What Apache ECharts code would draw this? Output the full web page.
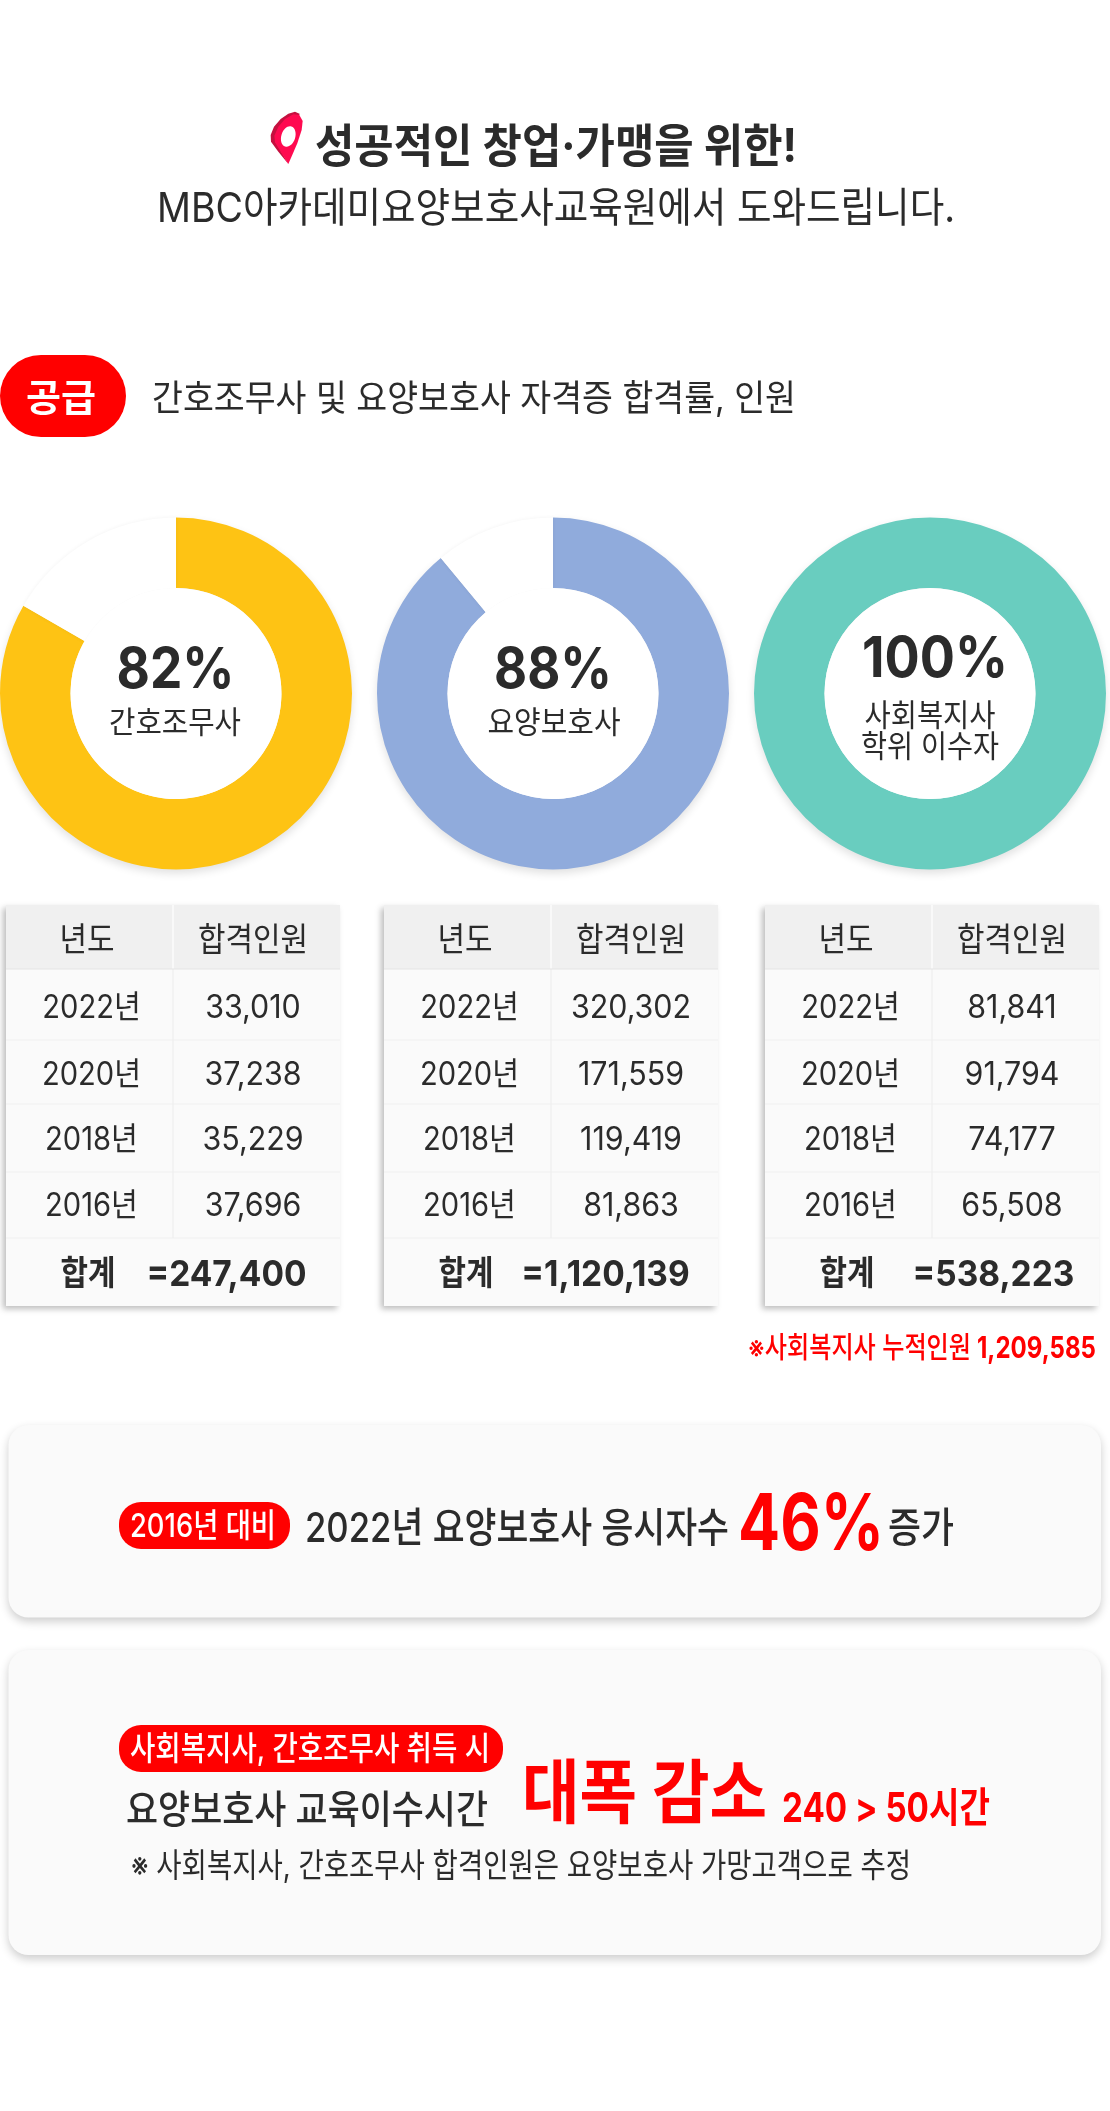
<!DOCTYPE html>
<html lang="ko"><head><meta charset="utf-8">
<style>html,body{margin:0;padding:0;background:#fff}#c{width:1110px;height:2111px}</style>
<script src="https://cdn.jsdelivr.net/npm/echarts@6/dist/echarts.min.js"></script>
</head><body><div id="c"></div>
<script>
// ---------- data ----------
const donutNames = ['간호조무사', '요양보호사', '사회복지사 학위 이수자'];
const donutLabels = ['82%', '88%', '100%'];
const drawnShares = [83.3, 89, 100];          // arc share as measured in the picture
const donutColors = ['#fec314', '#90abdc', '#69cdbf'];
const tableYears = ['2022년', '2020년', '2018년', '2016년'];
const nurseAides = ['33,010', '37,238', '35,229', '37,696'];
const careWorkers = ['320,302', '171,559', '119,419', '81,863'];
const socialWorkers = ['81,841', '91,794', '74,177', '65,508'];
const tableTotals = ['=247,400', '=1,120,139', '=538,223'];

// ---------- layout ----------
const INK = '#2b2b2b', RED = '#ff0000';
const FONT = 'Inter, "Noto Sans CJK KR", sans-serif';
const ctx = document.createElement('canvas').getContext('2d');
function textW(t, size, weight) { ctx.font = weight + ' ' + size + 'px ' + FONT; return ctx.measureText(t).width; }
const g = [];
function T(t, o) {
  const size = o.size, weight = o.weight || 400;
  const nat = textW(t, size, weight);
  const w = o.w || nat * (o.k || 1);
  const left = o.x != null ? o.x : o.cx - w / 2;
  g.push({ type: 'text', x: left, y: o.y, scaleX: w / nat, z: 20, silent: true,
    style: { text: t, fill: o.color || INK, font: weight + ' ' + size + 'px ' + FONT, textAlign: 'left', textVerticalAlign: 'middle' } });
}
function R(x, y, w, h, fill, r, shadow, z) {
  g.push({ type: 'rect', z: z || 5, silent: true, shape: { x, y, width: w, height: h, r: r || 0 },
    style: Object.assign({ fill }, shadow || {}) });
}
function L(x1, y1, x2, y2, color) {
  g.push({ type: 'line', z: 7, silent: true, shape: { x1, y1, x2, y2 }, style: { stroke: color, lineWidth: 1.2 } });
}
function P(points, fill) {
  g.push({ type: 'polygon', z: 8, silent: true, shape: { points: points.map(p => [260 + p[0] / 3, 105 + p[1] / 3]) }, style: { fill } });
}

// pin icon
P([[105,20],[120,27],[110,35],[85,45],[65,65],[52,90],[50,115],[85,177],[55,140],[33,110],[32,90],[42,65],[62,42],[85,26]], '#c5103f');
P([[100,28],[118,30],[128,48],[125,75],[112,115],[85,177],[62,140],[45,112],[43,92],[55,65],[75,42]], '#ff0a50');
g.push({ type: 'ellipse', z: 9, silent: true, x: 288.3, y: 136.5, rotation: -0.3, shape: { cx: 0, cy: 0, rx: 7, ry: 10.5 }, style: { fill: '#fff' } });

// heading
T('성공적인 창업·가맹을 위한!', { x: 315, w: 482, y: 148, size: 46, weight: 700 });
T('MBC아카데미요양보호사교육원에서 도와드립니다.', { x: 157, w: 798, y: 210, size: 41, weight: 400 });
R(0, 355, 126, 82, RED, 41);
T('공급', { cx: 61, w: 70, y: 400, size: 38, weight: 700, color: '#fff' });
T('간호조무사 및 요양보호사 자격증 합격률, 인원', { x: 152, w: 644, y: 400, size: 36, weight: 400 });

// donut centres
const centres = [176, 553, 930], cy = 693.5, rOut = 176, rIn = 105.5;
const shadow = { shadowBlur: 8, shadowOffsetY: 4, shadowColor: 'rgba(0,0,0,0.12)' };
const series = drawnShares.map((v, i) => ({
  type: 'pie', silent: true, z: 2, animation: false, center: [centres[i], cy], radius: [rIn, rOut], startAngle: 90, clockwise: true,
  label: { show: false }, labelLine: { show: false },
  data: (v < 100 ? [{ value: v, name: donutNames[i], itemStyle: { color: donutColors[i], ...shadow } },
                    { value: 100 - v, name: '', itemStyle: { color: '#fff', shadowBlur: 4, shadowColor: 'rgba(0,0,0,0.05)' } }]
                 : [{ value: v, name: donutNames[i], itemStyle: { color: donutColors[i], ...shadow } }])
}));
centres.forEach(c => g.push({ type: 'circle', z: 6, silent: true, shape: { cx: c, cy, r: rIn }, style: { fill: '#fff' } }));
T(donutLabels[0], { cx: 175.5, w: 118, y: 671, size: 57, weight: 700 });
T(donutNames[0], { cx: 175, w: 132, y: 724, size: 31 });
T(donutLabels[1], { cx: 553, w: 118, y: 671, size: 57, weight: 700 });
T(donutNames[1], { cx: 554, w: 133, y: 724, size: 31 });
T(donutLabels[2], { cx: 935, w: 146, y: 660, size: 57, weight: 700 });
T('사회복지사', { cx: 930, w: 131, y: 717, size: 31 });
T('학위 이수자', { cx: 930, w: 138, y: 748, size: 31 });

// tables
const lefts = [6, 384, 765], TW = 334, SPLIT = 167;
const rowLines = [969, 1040, 1104, 1172, 1238], rowY = [1008.5, 1075.5, 1140.5, 1206.5];
const totalCx = [220.5, 221.5, 228.5];
[nurseAides, careWorkers, socialWorkers].forEach((vals, i) => {
  const l = lefts[i], xs = l + SPLIT;
  R(l, 905, TW, 401, '#fafafa', 0, { shadowBlur: 6, shadowOffsetX: -3, shadowOffsetY: 3, shadowColor: 'rgba(0,0,0,0.26)' });
  R(l, 905, TW, 64, '#f0f0f0', 0, null, 6);
  L(xs, 905, xs, 969, '#ffffff');
  L(xs, 969, xs, 1238, '#efefef');
  rowLines.forEach((y, k) => L(l, y, l + TW, y, k === 0 ? '#e3e3e3' : '#efefef'));
  T('년도', { cx: l + 81, w: 55, y: 941, size: 33 });
  T('합격인원', { cx: l + 247, w: 110, y: 941, size: 33 });
  tableYears.forEach((yr, k) => {
    T(yr, { cx: l + 85.5, y: rowY[k], size: 32, k: 0.91 });
    T(vals[k], { cx: l + 247, y: rowY[k], size: 32, k: 0.95 });
  });
  T('합계', { cx: l + 82, w: 55, y: 1275, size: 34, weight: 700 });
  T(tableTotals[i], { cx: l + totalCx[i], y: 1275, size: 36, weight: 700, k: 0.93 });
});
T('※사회복지사 누적인원', { x: 748, w: 223, y: 1349, size: 29, weight: 500, color: RED });
T('1,209,585', { x: 977, w: 119, y: 1349, size: 30, weight: 700, color: RED });

// cards
const cardShadow = { shadowBlur: 10, shadowOffsetY: 4, shadowColor: 'rgba(0,0,0,0.2)' };
R(8.5, 1425, 1092.5, 192.5, '#fafafa', 20, cardShadow);
R(8.5, 1650, 1092.5, 305, '#fafafa', 20, cardShadow);
R(119, 1502, 171, 47, RED, 22, null, 6);
T('2016년 대비', { x: 130, w: 146, y: 1527, size: 33, weight: 500, color: '#fff' });
T('2022년 요양보호사 응시자수', { x: 305, w: 424, y: 1530, size: 41, weight: 500 });
T('46%', { x: 738, w: 146, y: 1527, size: 78, weight: 700, color: RED });
T('증가', { x: 888, w: 66, y: 1530, size: 41, weight: 500 });
R(119, 1725, 384, 47, RED, 22, null, 6);
T('사회복지사, 간호조무사 취득 시', { x: 130, w: 360, y: 1750, size: 33, weight: 500, color: '#fff' });
T('요양보호사 교육이수시간', { x: 126, w: 362, y: 1811, size: 39, weight: 500 });
T('대폭 감소', { x: 522, w: 245, y: 1797, size: 70, weight: 700, color: RED });
T('240 > 50시간', { x: 782, w: 208, y: 1810, size: 41, weight: 700, color: RED });
T('※ 사회복지사, 간호조무사 합격인원은 요양보호사 가망고객으로 추정', { x: 131, w: 780, y: 1867, size: 33 });

echarts.init(document.getElementById('c')).setOption({
  animation: false, backgroundColor: '#fff', series, graphic: { elements: g }
});
</script></body></html>
